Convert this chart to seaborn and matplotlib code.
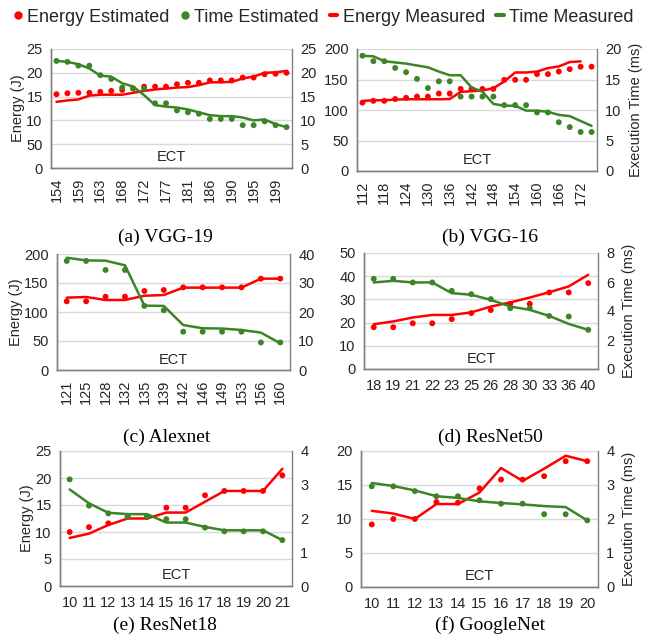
import numpy as np
import pandas as pd
import matplotlib
matplotlib.use("Agg")
import matplotlib.pyplot as plt
from matplotlib.lines import Line2D
import seaborn as sns

sns.set_style("white")
plt.rcParams["font.family"] = ["Liberation Sans", "DejaVu Sans"]

RED = "#FF0000"
GREEN = "#3B8526"
GRID = "#D9D9D9"
SPINE = "#808080"
TEXT = "#262626"

# ---- (a) VGG-19 ----
a_ect = ["154", "156", "159", "161", "163", "165", "168", "170", "172", "174", "177",
         "179", "181", "183", "186", "188", "190", "192", "195", "197", "199", "201"]
a_energy_est = [15.5, 15.7, 15.8, 15.8, 16.0, 16.2, 16.4, 16.7, 17.1, 17.1, 17.1,
                17.6, 17.9, 17.9, 18.4, 18.4, 18.4, 19.0, 19.0, 19.7, 19.8, 20.0]
a_time_est = [22.5, 22.3, 21.5, 21.5, 19.5, 18.7, 16.9, 16.7, 16.7, 13.6, 13.6,
              12.1, 11.7, 11.4, 10.3, 10.3, 10.3, 9.0, 9.0, 9.8, 9.0, 8.6]
a_energy_meas = [13.9, 14.2, 14.4, 15.2, 15.4, 15.4, 15.4, 15.8, 16.2, 16.5, 16.7,
                 16.9, 17.0, 17.4, 18.0, 18.0, 18.1, 18.8, 19.2, 20.0, 20.1, 20.4]
a_time_meas = [22.5, 22.3, 21.8, 20.9, 19.4, 19.2, 17.8, 17.1, 15.3, 13.2, 12.9,
               12.7, 12.3, 11.7, 11.1, 10.9, 10.9, 10.6, 10.0, 10.2, 9.2, 8.6]
a_left_ticks = ["0", "50", "10", "15", "20", "25"]

# ---- (b) VGG-16 ----
b_ect = ["112", "115", "118", "121", "124", "127", "130", "133", "136", "139", "142",
         "145", "148", "151", "154", "157", "160", "163", "166", "169", "172", "175"]
b_energy_est = [112, 115, 115, 118, 120, 122, 122, 127, 127, 134.6, 134.6,
                134.6, 134.6, 149.5, 149.5, 149.5, 158.8, 158.8, 163, 167, 171, 171]
b_time_est = [18.9, 18.0, 18.0, 16.9, 16.2, 15.1, 13.6, 14.7, 14.7, 12.2, 12.2,
              12.2, 12.2, 10.8, 10.8, 10.8, 9.6, 9.6, 8.0, 7.2, 6.4, 6.4]
b_energy_meas = [114.8, 116, 116, 117, 117.6, 117.6, 117.6, 117.6, 118, 129.7, 130.8,
                 132, 135.7, 146.7, 161.5, 161.5, 163, 168.7, 171.4, 178.6, 179.7, np.nan]
b_time_meas = [18.9, 18.8, 18.0, 17.8, 17.6, 17.3, 17.0, 16.3, 15.7, 15.7, 13.7,
               13.0, 11.0, 10.7, 10.7, 9.9, 9.9, 9.7, 9.2, 9.0, 8.2, 7.4]

# ---- (c) Alexnet ----
c_ect = ["121", "125", "128", "132", "135", "139", "142", "146", "149", "153", "156", "160"]
c_energy_est = [118.4, 118.4, 126.4, 126.4, 136.2, 137.9, 142.5, 142.5, 142.5, 142.5, 157.5, 157.5]
c_time_est = [37.6, 37.6, 34.5, 34.5, 22.1, 20.6, 13.2, 13.2, 13.2, 13.2, 9.5, 9.5]
c_energy_meas = [124.7, 125.9, 120.7, 120.7, 128, 129.3, 142, 142, 142, 142, 157.5, 157.5]
c_time_meas = [38.7, 37.8, 37.7, 36.1, 22.2, 22.1, 15.5, 14.4, 14.3, 13.8, 12.9, 9.2]

# ---- (d) ResNet50 ----
d_ect = ["18", "19", "21", "22", "23", "25", "26", "28", "30", "33", "36", "40"]
d_energy_est = [18.0, 18.0, 19.7, 19.7, 21.5, 24.1, 25.4, 28.1, 28.1, 33.0, 33.0, 37.0]
d_time_est = [6.22, 6.22, 5.97, 5.97, 5.39, 5.16, 4.82, 4.19, 4.19, 3.66, 3.62, 2.70]
d_energy_meas = [19.3, 20.5, 22.2, 23.3, 23.3, 24.4, 26.9, 28.7, 30.8, 33.1, 35.6, 40.6]
d_time_meas = [5.97, 6.08, 5.97, 5.97, 5.23, 5.12, 4.77, 4.31, 4.08, 3.66, 3.11, 2.70]

# ---- (e) ResNet18 ----
e_ect = ["10", "11", "12", "13", "14", "15", "16", "17", "18", "19", "20", "21"]
e_energy_est = [10.0, 10.9, 11.6, 12.8, 12.8, 14.5, 14.5, 16.8, 17.6, 17.6, 17.6, 20.5]
e_time_est = [3.16, 2.38, 2.15, 2.05, 2.05, 1.98, 1.98, 1.73, 1.62, 1.62, 1.62, 1.36]
e_energy_meas = [8.9, 9.7, 11.3, 12.5, 12.5, 13.6, 13.6, 15.6, 17.6, 17.6, 17.6, 21.7]
e_time_meas = [2.86, 2.45, 2.17, 2.13, 2.13, 1.88, 1.88, 1.75, 1.65, 1.65, 1.65, 1.36]

# ---- (f) GoogleNet ----
f_ect = ["10", "11", "12", "13", "14", "15", "16", "17", "18", "19", "20"]
f_energy_est = [9.2, 10.0, 10.0, 12.5, 12.4, 14.5, 15.8, 15.8, 16.3, 18.5, 18.5]
f_time_est = [2.96, 2.96, 2.82, 2.67, 2.67, 2.55, 2.45, 2.45, 2.14, 2.14, 1.96]
f_energy_meas = [11.2, 10.8, 10.0, 12.2, 12.2, 13.9, 17.5, 15.6, 17.4, 19.3, 18.5]
f_time_meas = [3.06, 2.97, 2.84, 2.67, 2.62, 2.52, 2.47, 2.43, 2.38, 2.35, 1.96]


def draw_panel(fig, rect, ect, e_est, t_est, e_meas, t_meas, e_max, e_step, t_max, t_step,
               caption, cap_xy, left_label=False, right_label=False, rotate=False,
               label_every=1, left_ticklabels=None):
    df = pd.DataFrame({"pos": range(len(ect)), "e_est": e_est, "t_est": t_est,
                       "e_meas": e_meas, "t_meas": t_meas})
    ax = fig.add_axes(rect)
    ax2 = ax.twinx()

    sns.lineplot(data=df, x="pos", y="e_meas", color=RED, linewidth=1.8, ax=ax, legend=False)
    sns.scatterplot(data=df, x="pos", y="e_est", color=RED, s=18, edgecolor="none", ax=ax,
                    legend=False, zorder=3)
    sns.lineplot(data=df, x="pos", y="t_meas", color=GREEN, linewidth=1.8, ax=ax2, legend=False)
    sns.scatterplot(data=df, x="pos", y="t_est", color=GREEN, s=18, edgecolor="none", ax=ax2,
                    legend=False, zorder=3)

    n = len(ect)
    ax.set_xlim(-0.5, n - 0.5)
    ax.set_ylim(0, e_max)
    ax2.set_ylim(0, t_max)
    ax.set_yticks(np.arange(0, e_max + e_step / 2, e_step))
    ax2.set_yticks(np.arange(0, t_max + t_step / 2, t_step))
    if left_ticklabels is not None:
        ax.set_yticklabels(left_ticklabels)
    ax2.set_yticklabels([f"{v:g}" for v in np.arange(0, t_max + t_step / 2, t_step)])

    ticks = list(range(0, n, label_every))
    ax.set_xticks(ticks)
    ax.set_xticklabels([ect[i] for i in ticks], rotation=90 if rotate else 0)

    ax.grid(axis="y", color=GRID, linewidth=1)
    ax.set_axisbelow(True)
    for a in (ax, ax2):
        a.set_xlabel("")
        a.set_ylabel("")
        a.tick_params(length=0, labelsize=10.5, colors=TEXT, pad=6)
        for side in ("left", "right", "bottom"):
            a.spines[side].set_color(SPINE)
            a.spines[side].set_linewidth(1)
        a.spines["top"].set_visible(False)
    ax.spines["right"].set_visible(False)
    ax.tick_params(axis="x", pad=7)

    if left_label:
        ax.set_ylabel("Energy (J)", fontsize=10.5, color=TEXT, labelpad=1)
    if right_label:
        ax2.set_ylabel("Execution Time (ms)", fontsize=10.5, color=TEXT, labelpad=5)

    ax.text(0.5, 0.03, "ECT", transform=ax.transAxes, ha="center", va="bottom",
            fontsize=10.5, color=TEXT)
    fig.text(cap_xy[0], cap_xy[1], caption, ha="center", va="center", fontsize=14,
             family=["Liberation Serif", "DejaVu Serif"], color="black")


W, H = 652, 638
fig = plt.figure(figsize=(W / 100, H / 100), dpi=100)


def r(x0, x1, y0, y1):
    return [x0 / W, 1 - y1 / H, (x1 - x0) / W, (y1 - y0) / H]


draw_panel(fig, r(51, 292, 49, 168), a_ect, a_energy_est, a_time_est, a_energy_meas, a_time_meas,
           25, 5, 25, 5, "(a) VGG-19", (165 / W, 1 - 237 / H), left_label=True, rotate=True,
           label_every=2, left_ticklabels=a_left_ticks)
draw_panel(fig, r(357, 597, 49, 171), b_ect, b_energy_est, b_time_est, b_energy_meas, b_time_meas,
           200, 50, 20, 5, "(b) VGG-16", (490 / W, 1 - 237 / H), right_label=True, rotate=True,
           label_every=2)
draw_panel(fig, r(57, 290, 254, 370), c_ect, c_energy_est, c_time_est, c_energy_meas, c_time_meas,
           200, 50, 40, 10, "(c) Alexnet", (167 / W, 1 - 437 / H), left_label=True, rotate=True)
draw_panel(fig, r(364, 598, 253, 369), d_ect, d_energy_est, d_time_est, d_energy_meas, d_time_meas,
           50, 10, 8, 2, "(d) ResNet50", (490 / W, 1 - 437 / H), right_label=True)
draw_panel(fig, r(60, 292, 451, 586), e_ect, e_energy_est, e_time_est, e_energy_meas, e_time_meas,
           25, 5, 4, 1, "(e) ResNet18", (165 / W, 1 - 625 / H), left_label=True)
draw_panel(fig, r(361, 598, 451, 587), f_ect, f_energy_est, f_time_est, f_energy_meas, f_time_meas,
           20, 5, 4, 1, "(f) GoogleNet", (490 / W, 1 - 625 / H), right_label=True)

handles = [
    Line2D([], [], marker="o", linestyle="none", color=RED, markersize=5),
    Line2D([], [], marker="o", linestyle="none", color=GREEN, markersize=5),
    Line2D([], [], color=RED, linewidth=3),
    Line2D([], [], color=GREEN, linewidth=3),
]
labels = ["Energy Estimated", "Time Estimated", "Energy Measured", "Time Measured"]
fig.legend(handles, labels, loc="upper center", bbox_to_anchor=(0.497, 1.012), ncol=4,
           frameon=False, fontsize=13, handlelength=0.4, handletextpad=0.3,
           columnspacing=0.64, labelcolor=TEXT)

fig.savefig("out.png", dpi=100)
